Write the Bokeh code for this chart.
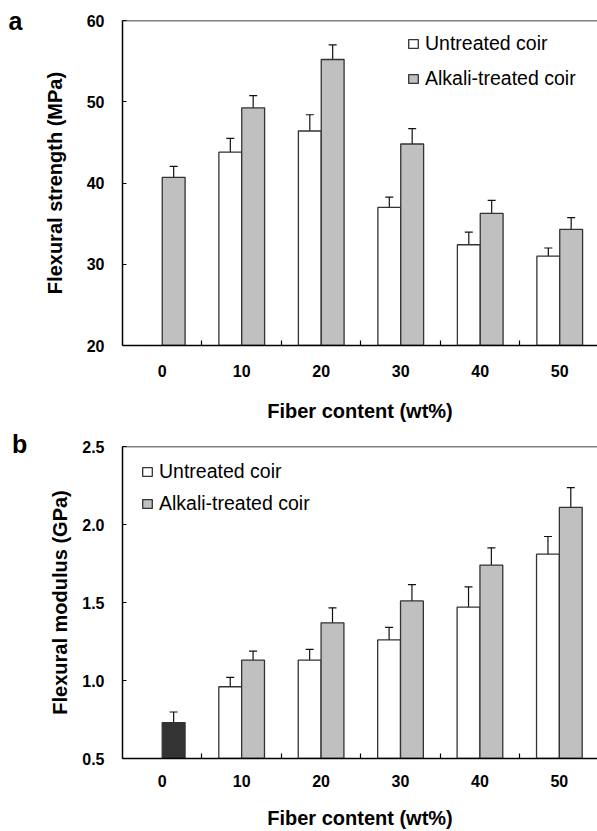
from bokeh.plotting import figure
from bokeh.models import (ColumnDataSource, Range1d, FixedTicker, Whisker, TeeHead,
                          Span, Legend, LegendItem, Label, NumeralTickFormatter)
from bokeh.layouts import column
from bokeh.transform import dodge
from bokeh.embed import file_html
from bokeh.resources import INLINE

# ---------------- data ----------------
categories = ["0", "10", "20", "30", "40", "50"]
fiber_categories = ["10", "20", "30", "40", "50"]
neat_category = ["0"]

neat_strength = [40.7]
neat_strength_err = [1.35]
untreated_strength = [43.8, 46.4, 37.0, 32.4, 31.0]
untreated_strength_err = [1.7, 2.0, 1.25, 1.55, 1.0]
alkali_strength = [49.25, 55.2, 44.8, 36.25, 34.3]
alkali_strength_err = [1.5, 1.8, 1.9, 1.6, 1.45]

neat_modulus = [0.73]
neat_modulus_err = [0.068]
untreated_modulus = [0.96, 1.13, 1.26, 1.47, 1.81]
untreated_modulus_err = [0.06, 0.07, 0.08, 0.13, 0.113]
alkali_modulus = [1.13, 1.37, 1.51, 1.74, 2.11]
alkali_modulus_err = [0.058, 0.096, 0.105, 0.11, 0.127]

strength_ticks = [20, 30, 40, 50, 60]
modulus_ticks = [0.5, 1.0, 1.5, 2.0, 2.5]

x_title = "Fiber content (wt%)"
series_labels = ["Untreated coir", "Alkali-treated coir"]

# ---------------- style ----------------
FONT = "Liberation Sans"
BAR_W = 0.2875
OFF = 0.14375
EDGE = "#333333"
GRAY = "#c0c0c0"
DARK = "#333333"


def make_source(cats, vals, errs):
    xs = [categories.index(c) + 0.5 for c in cats]
    return ColumnDataSource(dict(
        x=xs, top=vals,
        upper=[v + e for v, e in zip(vals, errs)],
        lower=[v - e for v, e in zip(vals, errs)],
    ))


def make_panel(letter, ylabel, ticks, tick_fmt, neat, neat_err, neat_color,
               untreated, untreated_err, alkali, alkali_err,
               height, border_left, border_top, frame_h, xend,
               xlab_standoff, title_standoff, ytitle_standoff,
               legend_loc, legend_spacing, letter_pos):
    y0, y1 = ticks[0], ticks[-1]
    p = figure(width=597, height=height,
               x_range=Range1d(0, xend), y_range=Range1d(y0, y1),
               output_backend="svg", toolbar_location=None,
               min_border_left=border_left, min_border_right=0,
               min_border_top=border_top,
               min_border_bottom=height - border_top - frame_h)
    p.outline_line_color = None
    p.xgrid.visible = False
    p.ygrid.visible = False
    p.background_fill_color = "white"
    p.border_fill_color = "white"

    s_neat = make_source(neat_category, neat, neat_err)
    s_un = make_source(fiber_categories, untreated, untreated_err)
    s_al = make_source(fiber_categories, alkali, alkali_err)

    r_un = p.vbar(x=dodge("x", -OFF), top="top", bottom=y0, width=BAR_W, source=s_un,
                  fill_color="white", line_color=EDGE, line_width=1.3)
    r_al = p.vbar(x=dodge("x", OFF), top="top", bottom=y0, width=BAR_W, source=s_al,
                  fill_color=GRAY, line_color=EDGE, line_width=1.3)
    p.vbar(x=dodge("x", OFF), top="top", bottom=y0, width=BAR_W, source=s_neat,
           fill_color=neat_color, line_color=EDGE, line_width=1.3)

    for src, off in ((s_un, -OFF), (s_al, OFF), (s_neat, OFF)):
        p.add_layout(Whisker(source=src, base=dodge("x", off), upper="upper", lower="lower",
                             dimension="height", line_color="#111111", line_width=1.2,
                             upper_head=TeeHead(size=8, line_color="#111111", line_width=1.2),
                             lower_head=TeeHead(size=8, line_color="#111111", line_width=1.2)))

    # top frame line
    p.add_layout(Span(location=y1, dimension="width", line_color="black", line_width=1.5))

    # x axis
    xa = p.xaxis[0]
    xa.ticker = FixedTicker(ticks=[i + 0.5 for i in range(len(categories))],
                            minor_ticks=list(range(1, len(categories))))
    xa.major_label_overrides = {i + 0.5: c for i, c in enumerate(categories)}
    xa.major_tick_in = 0
    xa.major_tick_out = 0
    xa.minor_tick_in = 5
    xa.minor_tick_out = 0
    xa.minor_tick_line_color = "black"
    xa.minor_tick_line_width = 1.2
    xa.axis_line_color = "black"
    xa.axis_line_width = 1.5
    xa.major_label_standoff = xlab_standoff
    xa.major_label_text_font = FONT
    xa.major_label_text_font_style = "bold"
    xa.major_label_text_font_size = "16px"
    xa.major_label_text_color = "black"
    xa.axis_label = x_title
    xa.axis_label_standoff = title_standoff
    xa.axis_label_text_font = FONT
    xa.axis_label_text_font_style = "bold"
    xa.axis_label_text_font_size = "20px"
    xa.axis_label_text_color = "black"

    # y axis
    ya = p.yaxis[0]
    ya.ticker = FixedTicker(ticks=ticks)
    if tick_fmt:
        ya.formatter = NumeralTickFormatter(format=tick_fmt)
    ya.major_tick_in = 4
    ya.major_tick_out = 0
    ya.major_tick_line_color = "black"
    ya.minor_tick_in = 0
    ya.minor_tick_out = 0
    ya.axis_line_color = "black"
    ya.axis_line_width = 1.5
    ya.major_label_standoff = 18
    ya.major_label_text_font = FONT
    ya.major_label_text_font_style = "bold"
    ya.major_label_text_font_size = "16px"
    ya.major_label_text_color = "black"
    ya.axis_label = ylabel
    ya.axis_label_standoff = ytitle_standoff
    ya.axis_label_text_font = FONT
    ya.axis_label_text_font_style = "bold"
    ya.axis_label_text_font_size = "20px"
    ya.axis_label_text_color = "black"

    legend = Legend(items=[LegendItem(label=series_labels[0], renderers=[r_un]),
                           LegendItem(label=series_labels[1], renderers=[r_al])],
                    location=legend_loc, padding=0, margin=0, border_line_color=None,
                    background_fill_alpha=0, glyph_width=12, glyph_height=11,
                    label_standoff=6, label_height=22, spacing=legend_spacing,
                    label_text_font=FONT, label_text_font_size="19.5px",
                    label_text_color="black")
    p.add_layout(legend)

    p.add_layout(Label(x=letter_pos[0], y=letter_pos[1], x_units="screen", y_units="screen",
                       text=letter, text_font=FONT, text_font_style="bold",
                       text_font_size="25px", text_color="black",
                       text_baseline="alphabetic", level="overlay"), "left")
    return p


pa = make_panel("a", "Flexural strength (MPa)", strength_ticks, None,
                neat_strength, neat_strength_err, GRAY,
                untreated_strength, untreated_strength_err,
                alkali_strength, alkali_strength_err,
                height=427, border_left=119, border_top=20, frame_h=325, xend=5.975,
                xlab_standoff=19, title_standoff=20, ytitle_standoff=18,
                legend_loc=(285, 255), legend_spacing=12,
                letter_pos=(-18, 325))

pb = make_panel("b", "Flexural modulus (GPa)", modulus_ticks, "0.0",
                neat_modulus, neat_modulus_err, DARK,
                untreated_modulus, untreated_modulus_err,
                alkali_modulus, alkali_modulus_err,
                height=404, border_left=122, border_top=19, frame_h=315, xend=5.98,
                xlab_standoff=16, title_standoff=17, ytitle_standoff=8,
                legend_loc=(19, 243), legend_spacing=9,
                letter_pos=(-19.5, 315))

layout = column(pa, pb, spacing=0)
open("out.html", "w").write(file_html(layout, INLINE))
